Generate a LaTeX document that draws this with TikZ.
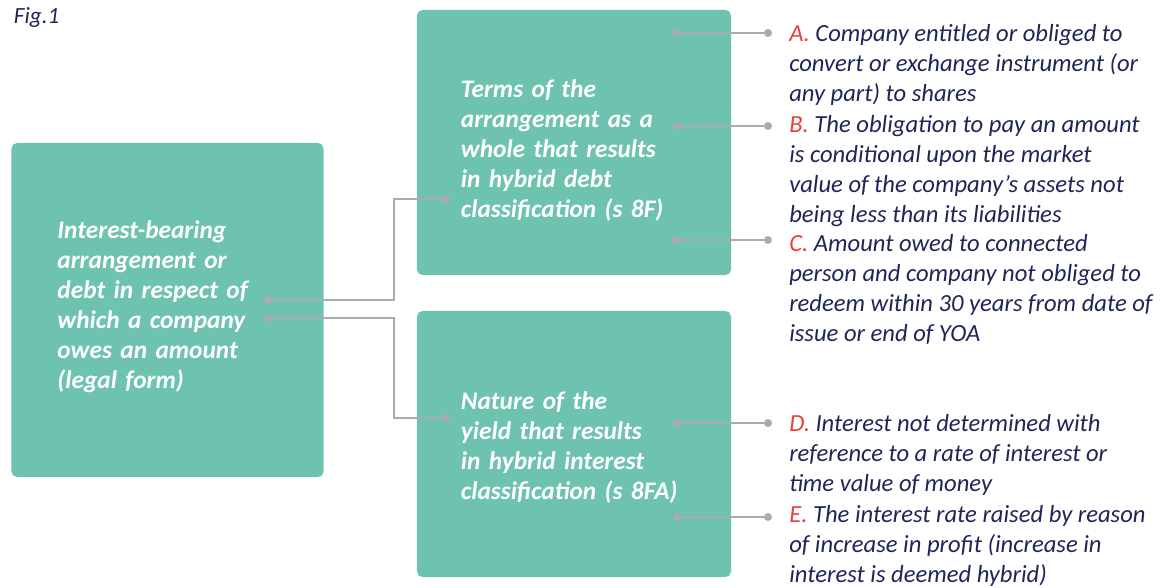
\documentclass[tikz,border=0pt]{standalone}
\usepackage{fontspec}
\setmainfont{Carlito}
\newfontfamily\boxfont[WordSpace=0.7]{Carlito}
\usetikzlibrary{positioning}
\definecolor{boxgreen}{HTML}{6DC3AF}
\definecolor{linegray}{HTML}{A9ABB0}
\definecolor{textnavy}{HTML}{1E2557}
\definecolor{letterred}{HTML}{E8413C}
\tikzstyle{box}=[fill=boxgreen,rounded corners=4pt,inner ysep=0pt,inner xsep=1.15cm,align=left,text=white,font=\boxfont\fontsize{18}{21.3}\selectfont\itshape\bfseries]
\tikzstyle{dot}=[circle,fill=linegray,minimum size=2mm,inner sep=0pt]
\tikzstyle{conn}=[draw=linegray,line width=1.4pt]
\tikzstyle{item}=[anchor=north west,inner sep=0pt,align=left,text=textnavy,font=\fontsize{17.5}{21.3}\selectfont\itshape]
\newcommand{\lbl}[1]{\textcolor{letterred}{#1}}

\begin{document}
\begin{tikzpicture}[x=0.025cm,y=-0.025cm]
  \useasboundingbox (0,0) rectangle (1160,587);
  \node[anchor=west,text=textnavy,font=\fontsize{16.5}{18}\selectfont\itshape] (fig) at (9,18) {Fig.1};
  % boxes
  \node[box,text width=5.5cm,minimum height=8.35cm] (debt) at (167.5,310)
    {Interest-bearing\\arrangement or\\debt in respect of\\which a company\\owes an amount\\(legal form)\par\vspace*{0.15cm}};
  \node[box,inner xsep=1.1cm,text width=5.65cm,minimum height=6.625cm] (terms) at (574,142.5)
    {\rule{0pt}{0.83cm}Terms of the\\arrangement as a\\whole that results\\in hybrid debt\\classification (s 8F)};
  \node[box,inner xsep=1.1cm,text width=5.65cm,minimum height=6.65cm] (yield) at (574,444)
    {\rule{0pt}{0.63cm}Nature of the\\yield that results\\in hybrid interest\\classification (s 8FA)};
  % dots
  \node[dot] (d1) at (268,300) {};
  \node[dot] (d2) at (268,318) {};
  \node[dot] (t0) at (446,199) {};
  \node[dot] (y0) at (446,418) {};
  \coordinate (jx) at (394,0);
  \node[dot] (tA) at (677,33) {};
  \node[dot] (tB) at (677,126) {};
  \node[dot] (tC) at (677,240) {};
  \node[dot] (yD) at (677,423) {};
  \node[dot] (yE) at (677,517) {};
  \node[dot] (oA) at (768,33) {};
  \node[dot] (oB) at (768,126) {};
  \node[dot] (oC) at (768,240) {};
  \node[dot] (oD) at (768,423) {};
  \node[dot] (oE) at (768,517) {};
  % connectors
  \draw[conn] (d1) -- (d1 -| jx) |- (t0);
  \draw[conn] (d2) -- (d2 -| jx) |- (y0);
  \foreach \s/\t in {tA/oA,tB/oB,tC/oC,yD/oD,yE/oE}
    \draw[conn] (\s) -- (\t);
  % conditions
  \node[item] (condA) at (789,24) {\lbl{A.} Company entitled or obliged to\\convert or exchange instrument (or\\any part) to shares};
  \node[item] (condB) at (789,115) {\lbl{B.} The obligation to pay an amount\\is conditional upon the market\\value of the company's assets not\\being less than its liabilities};
  \node[item] (condC) at (789,234) {\lbl{C.} Amount owed to connected\\person and company not obliged to\\redeem within 30 years from date of\\issue or end of YOA};
  \node[item] (condD) at (789,414) {\lbl{D.} Interest not determined with\\reference to a rate of interest or\\time value of money};
  \node[item] (condE) at (789,505) {\lbl{E.} The interest rate raised by reason\\of increase in profit (increase in\\interest is deemed hybrid)};
\end{tikzpicture}
\end{document}
